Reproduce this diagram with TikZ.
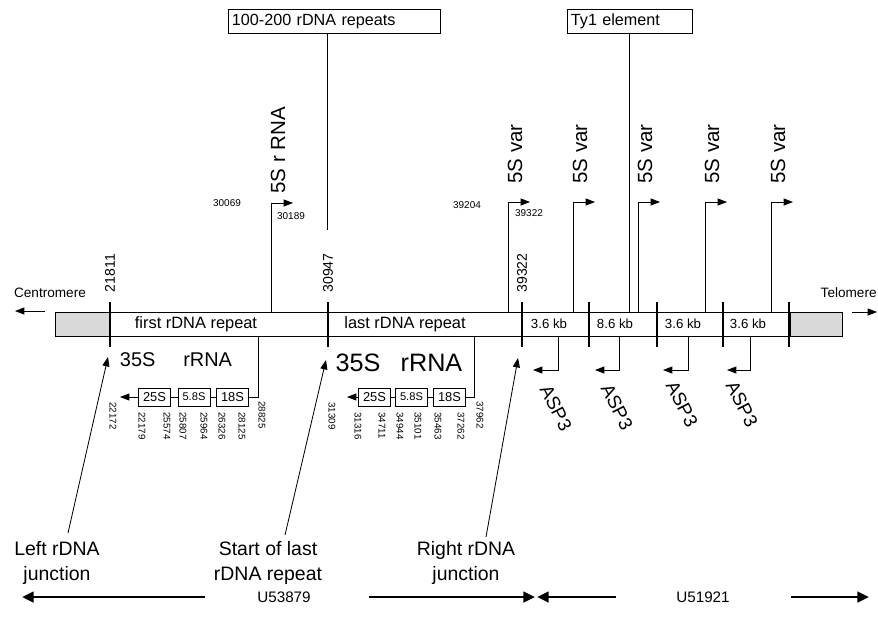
\documentclass[tikz,border=0pt]{standalone}
\usepackage{fontspec}
\setmainfont{Liberation Sans}
\usetikzlibrary{arrows.meta}
\newcommand{\sizept}[2]{\fontsize{#1}{#2}\selectfont}

\begin{document}
\begin{tikzpicture}[x=0.03cm, y=-0.03cm, line width=0.7pt,
    >={Triangle[length=8pt, width=6pt]},
    endbox/.style={draw, line width=0.7pt, fill=gray!30},
    tick/.style={line width=2.4pt},
    bignum/.style={rotate=90, inner sep=0pt, font=\sizept{12}{14}},
    smallnum/.style={inner sep=0pt, font=\sizept{8.5}{10}},
    genenum/.style={rotate=-90, anchor=west, inner sep=0pt, font=\sizept{8.3}{10}},
    fivelabel/.style={rotate=90, anchor=west, inner sep=0pt, font=\sizept{17.5}{20}},
    kb/.style={inner sep=0pt, font=\sizept{11.3}{13}},
    genebox/.style={draw, minimum width=0.96cm, minimum height=0.54cm, inner sep=0pt, font=\sizept{11}{13}},
    asp/.style={rotate=-63, inner sep=0pt, font=\sizept{16}{19}},
    junction/.style={align=center, inner sep=0pt, font=\sizept{16.6}{21.3}},
    topbox/.style={draw, anchor=north west, align=left, inner xsep=3pt, minimum height=0.72cm, font=\sizept{13.8}{16}},
    bigarrow/.style={line width=2.4pt, -{Triangle[length=10pt, width=9pt]}}
]
\useasboundingbox (0,0) rectangle (878,631);

% Chromosome bar with grey ends
\draw (55,312) rectangle (842,336);
\draw[endbox] (55,312) rectangle (110,336);
\draw[endbox] (790,312) rectangle (842,336);
\foreach \t in {110,328,522,589,657,723,789}
    \draw[tick] (\t,302) -- (\t,347);

% Ends
\node[inner sep=0pt, font=\sizept{11.6}{13}] (cen) at (50,293) {Centromere};
\draw[->] (45,311) -- (15,311);
\node[inner sep=0pt, font=\sizept{11.6}{13}, anchor=east] (tel) at (877,293) {Telomere};
\draw[->] (852,312) -- (877,312);

% Segment labels
\node[inner sep=0pt, font=\sizept{14}{16}] (first) at (196,324) {first rDNA repeat};
\node[inner sep=0pt, font=\sizept{14}{16}] (last) at (405,324) {last rDNA repeat};
\node[kb] (kba) at (549,324) {3.6 kb};
\node[kb] (kbb) at (615,324) {8.6 kb};
\node[kb] (kbc) at (683,324) {3.6 kb};
\node[kb] (kbd) at (748,324) {3.6 kb};

% Junction positions
\node[bignum] (n21811) at (110,273) {21811};
\node[bignum] (n30947) at (328,273) {30947};
\node[bignum] (n39322) at (522,273) {39322};

% Top boxes
\node[topbox, text width=175pt] (rep) at (228,9) {100-200 rDNA repeats};
\draw (rep.south -| 327,0) -- (327,230);
\node[topbox, text width=101pt] (ty) at (567,9) {Ty1 element};
\draw (ty.south -| 629,0) -- (629,312);

% 5S genes
\draw[->] (271,312) |- (293,203);
\node[fivelabel] (fiver) at (278,194) {5S r RNA};
\node[smallnum] (n30069) at (227,203) {30069};
\node[smallnum] (n30189) at (291,216) {30189};
\foreach \s in {508,573,638,705,771} {
    \draw[->] (\s,312) |- (\s+22,202);
    \node[fivelabel] at (\s+7,184) {5S var};
}
\node[smallnum] (n39204) at (467,205) {39204};
\node[smallnum] (n39322b) at (529,213) {39322};

% ASP3 genes
\foreach \s/\t/\lx/\ly in {558/533/556/408, 619/595/617/407, 688/663/682/404, 750/727/742/404} {
    \draw[->] (\s,336) |- (\t,370);
    \node[asp] at (\lx,\ly) {ASP3};
}

% First 35S rRNA
\node[inner sep=0pt, font=\sizept{17}{20}] (rrnaa) at (176,360) {35S\hspace{1.4em}rRNA};
\node[genebox] (g25a) at (154.5,397) {25S};
\node[genebox, font=\sizept{9.5}{11}] (g58a) at (194,397) {5.8S};
\node[genebox] (g18a) at (232.5,397) {18S};
\draw (258,336) |- (g18a.east);
\draw (g18a.west) -- (g58a.east);
\draw (g58a.west) -- (g25a.east);
\draw[->] (g25a.west) -- (120,397);
\foreach \x/\n in {142/22179, 167/25574, 183/25807, 204/25964, 222/26326, 242/28125}
    \node[genenum] at (\x,412) {\n};
\node[genenum] at (113,402) {22172};
\node[genenum] at (262,401) {28825};

% Last 35S rRNA
\node[inner sep=0pt, font=\sizept{21.5}{24}] (rrnab) at (399,363) {35S\hspace{0.8em}rRNA};
\node[genebox] (g25b) at (374.5,397) {25S};
\node[genebox, font=\sizept{9.5}{11}] (g58b) at (411.5,397) {5.8S};
\node[genebox] (g18b) at (449.5,397) {18S};
\draw (474,336) |- (g18b.east);
\draw (g18b.west) -- (g58b.east);
\draw (g58b.west) -- (g25b.east);
\draw[->] (g25b.west) -- (347,397);
\foreach \x/\n in {358/31316, 382/34711, 400/34944, 418/35101, 438/35463, 461/37262}
    \node[genenum] at (\x,412) {\n};
\node[genenum] at (332,402) {31309};
\node[genenum] at (480,401) {37962};

% Junction pointers
\node[junction] (leftj) at (57,563) {Left rDNA\\junction};
\node[junction] (startj) at (268,563) {Start of last\\rDNA repeat};
\node[junction] (rightj) at (466,563) {Right rDNA\\junction};
\coordinate (leftfoot) at (68,533);
\coordinate (lefttip) at (108,357);
\coordinate (startfoot) at (285,535);
\coordinate (starttip) at (326,360);
\coordinate (rightfoot) at (486,537);
\coordinate (righttip) at (518,358);
\draw[->] (leftfoot) -- (lefttip);
\draw[->] (startfoot) -- (starttip);
\draw[->] (rightfoot) -- (righttip);

% GenBank entries
\node[inner sep=0pt, font=\sizept{13}{15}] (u1) at (284,597) {U53879};
\node[inner sep=0pt, font=\sizept{13}{15}] (u2) at (703,597) {U51921};
\draw[bigarrow] (205,597) -- (22,597);
\draw[bigarrow] (369,597) -- (535,597);
\draw[bigarrow] (616,597) -- (537,597);
\draw[bigarrow] (791,597) -- (869,597);
\end{tikzpicture}
\end{document}
